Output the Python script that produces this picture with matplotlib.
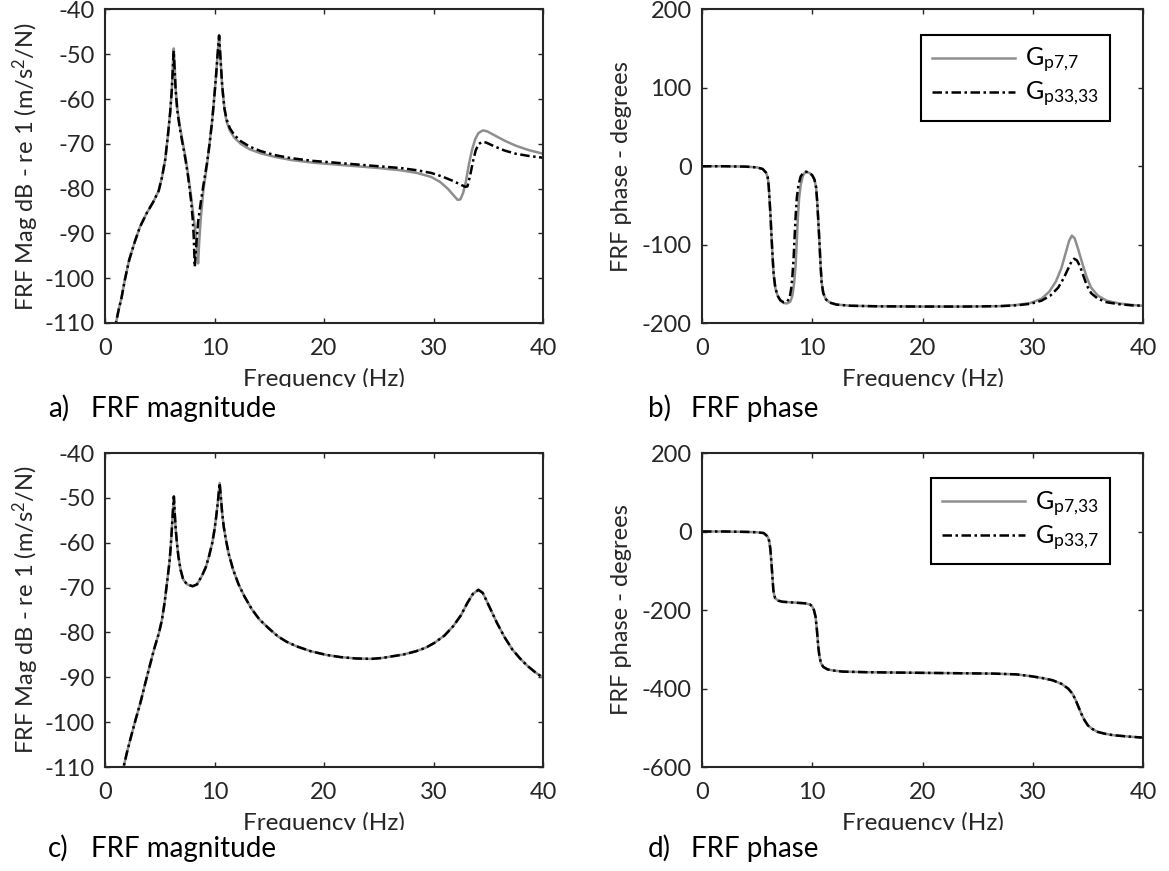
import matplotlib
matplotlib.use("Agg")
import matplotlib.pyplot as plt
from matplotlib.transforms import Bbox

plt.rcParams["font.family"] = ["Lato", "DejaVu Sans"]
plt.rcParams["mathtext.default"] = "regular"
plt.rcParams["axes.unicode_minus"] = False

# --- data (frequency in Hz) --------------------------------------------------

# a) magnitude, driving point FRFs
freq_a_77 = [0.8, 1.0, 1.25, 1.5, 1.8, 2.2, 2.7, 3.2, 3.8, 4.4, 4.9, 5.2, 5.5, 5.75,
             5.95, 6.1, 6.2, 6.28, 6.36, 6.45, 6.6, 6.8, 7.05, 7.35, 7.6, 7.85, 8.05,
             8.25, 8.4, 8.5, 8.6, 8.75, 9.0, 9.3, 9.55, 9.8, 10.0, 10.15, 10.3, 10.42,
             10.55, 10.7, 10.9, 11.1, 11.4, 11.8, 12.4, 13.2, 14.2, 15.5, 17.0, 19.0,
             21.0, 23.0, 25.0, 27.0, 28.5, 29.8, 30.6, 31.3, 31.8, 32.2, 32.45, 32.7,
             32.95, 33.2, 33.5, 33.8, 34.1, 34.5, 34.9, 35.5, 36.5, 37.5, 38.7, 40.0]
mag_a_77 = [-113, -110, -107, -104.5, -100.5, -96, -92, -88.5, -85.5, -83, -80.5, -77.5,
            -73.5, -68, -63, -58, -52, -48.7, -52.5, -57.5, -62, -65.5, -69, -73,
            -77, -81.5, -85.5, -89.5, -92.8, -96.7, -92, -86.5, -80, -75, -70, -64.5,
            -59, -54.5, -49.5, -45.8, -51, -57, -62, -65, -67, -68.6, -70, -71.2,
            -72.1, -72.9, -73.6, -74.2, -74.6, -75.0, -75.4, -75.9, -76.5, -77.4,
            -78.5, -80.0, -81.4, -82.5, -82.4, -81, -78.5, -75, -71.5, -69, -67.6,
            -67.0, -67.2, -68, -69.3, -70.4, -71.4, -72.2]

freq_a_3333 = [0.8, 1.0, 1.25, 1.5, 1.8, 2.2, 2.7, 3.2, 3.8, 4.4, 4.9, 5.2, 5.5, 5.75,
               5.95, 6.1, 6.2, 6.27, 6.35, 6.45, 6.6, 6.8, 7.05, 7.35, 7.6, 7.85, 8.0,
               8.1, 8.2, 8.35, 8.5, 8.75, 9.0, 9.3, 9.55, 9.8, 10.0, 10.15, 10.3, 10.42,
               10.55, 10.7, 10.9, 11.1, 11.4, 11.8, 12.4, 13.2, 14.2, 15.5, 17.0, 19.0,
               21.0, 23.0, 25.0, 27.0, 28.5, 29.8, 30.8, 31.7, 32.4, 32.9, 33.1, 33.35,
               33.6, 33.85, 34.1, 34.4, 34.8, 35.5, 36.5, 37.5, 38.7, 40.0]
mag_a_3333 = [-113, -110, -107, -104.5, -100.5, -96, -92, -88.5, -85.5, -83, -80.5,
              -77.5, -73.5, -68, -63, -58, -53, -49.2, -53, -58, -62.5, -66, -69.5,
              -73.5, -77.5, -82.5, -86.5, -90.5, -97.5, -92, -87.5, -83, -79, -74.5, -70,
              -64.5, -59, -54.5, -49.5, -45.8, -51, -57, -62, -64.5, -66.5, -68, -69.4,
              -70.6, -71.6, -72.5, -73.2, -73.8, -74.2, -74.6, -75.0, -75.4, -75.9,
              -76.5, -77.3, -78.2, -79.0, -79.6, -79.5, -77, -74, -71.5, -70.1, -69.6,
              -69.7, -70.5, -71.5, -72.2, -72.7, -73.1]

# b) phase, driving point FRFs
freq_b_77 = [0, 2, 4, 5.0, 5.5, 5.8, 5.96, 6.05, 6.13, 6.22, 6.3, 6.4, 6.5, 6.65, 6.85,
             7.1, 7.4, 7.7, 8.0, 8.2, 8.35, 8.5, 8.6, 8.7, 8.8, 8.95, 9.15, 9.4, 9.75,
             10.0, 10.2, 10.35, 10.45, 10.55, 10.65, 10.75, 10.85, 11.0, 11.25, 11.6,
             12.2, 13.5, 16, 20, 24, 27, 28.5, 29.8, 30.8, 31.5, 32.1, 32.6, 33.0,
             33.3, 33.55, 33.8, 34.1, 34.5, 34.9, 35.3, 35.9, 36.7, 37.8, 39.0, 40]
phase_b_77 = [0, 0, -0.5, -1.5, -3.5, -8, -14, -25, -43, -65, -88, -115, -138, -155,
              -165, -171, -174.5, -175, -173, -165, -150, -125, -95, -65, -42, -24, -12,
              -7, -8.5, -11.5, -17, -27, -45, -70, -96, -125, -148, -162, -170, -174,
              -176.5, -178, -178.7, -179, -179, -178.5, -177, -174.5, -169, -160, -147,
              -130, -110, -95, -88.5, -92, -105, -124, -142, -155, -165, -171.5, -175,
              -177, -178]

freq_b_3333 = [0, 2, 4, 5.0, 5.5, 5.8, 5.96, 6.05, 6.13, 6.22, 6.3, 6.4, 6.5, 6.65,
               6.85, 7.1, 7.4, 7.7, 7.95, 8.1, 8.2, 8.3, 8.4, 8.5, 8.6, 8.75, 8.95, 9.2,
               9.45, 9.75, 10.0, 10.2, 10.35, 10.45, 10.55, 10.65, 10.75, 10.85, 11.0,
               11.25, 11.6, 12.2, 13.5, 16, 20, 24, 27, 28.5, 29.8, 30.8, 31.6, 32.3,
               32.8, 33.2, 33.5, 33.75, 34.0, 34.3, 34.6, 34.9, 35.3, 35.9, 36.7, 37.8,
               39.0, 40]
phase_b_3333 = [0, 0, -0.5, -1.5, -3.5, -8, -14, -25, -43, -65, -88, -115, -138, -155,
                -165, -171, -173.5, -173, -168, -155, -140, -120, -90, -62, -40, -24, -13,
                -8, -7, -8.5, -11.5, -17, -27, -45, -70, -96, -125, -148, -162, -170,
                -174, -176.5, -178, -178.7, -179, -179, -178.5, -177.5, -175.5, -171.5,
                -165, -155, -143, -131, -122, -118, -120, -128, -140, -152, -162, -169,
                -173.5, -176, -177.5, -178]

# c) magnitude, transfer FRFs (Gp7,33 and Gp33,7 coincide)
freq_c = [1.5, 1.7, 2.0, 2.38, 2.8, 3.23, 3.65, 4.08, 4.5, 4.93, 5.2, 5.44, 5.65, 5.88,
          6.0, 6.1, 6.2, 6.29, 6.37, 6.46, 6.58, 6.7, 6.9, 7.14, 7.5, 8.0, 8.4, 8.83,
          9.2, 9.5, 9.8, 10.0, 10.15, 10.3, 10.47, 10.58, 10.7, 10.85, 11.04, 11.3,
          11.7, 12.2, 12.74, 13.4, 14.1, 15.0, 15.8, 16.6, 17.5, 18.8, 20.2, 21.5, 22.9,
          24.3, 25.3, 26.3, 27.3, 28.4, 29.3, 30.1, 31.0, 31.8, 32.5, 33.1, 33.6, 34.1,
          34.5, 34.8, 35.3, 35.8, 36.5, 37.2, 37.9, 38.6, 39.3, 40.0]
mag_c_7_33 = [-112.5, -110, -106.8, -103.2, -99.4, -95.7, -91.6, -87.5, -83.6, -80.1,
              -77.2, -73.4, -69.2, -64.5, -61, -57.1, -53, -49.7, -53.5, -57.1, -60.3,
              -63, -66, -68.2, -69.3, -69.7, -69.3, -67.5, -65.5, -63, -60, -57.1, -54.3,
              -51.1, -46.7, -49.8, -53.4, -56.5, -59.3, -62.5, -66, -69.3, -72, -74.8,
              -77.1, -79.2, -80.9, -82.1, -83.1, -84.2, -85, -85.5, -85.8, -85.9, -85.7,
              -85.3, -84.9, -84.2, -83.4, -82.3, -80.7, -78.6, -76.2, -73.4, -71.4,
              -70.5, -71.2, -72.7, -75.3, -77.9, -81.1, -83.8, -85.8, -87.5, -88.9,
              -90.1]
mag_c_33_7 = list(mag_c_7_33)

# d) phase, transfer FRFs (coincide)
freq_d = [0, 2, 4, 5.0, 5.6, 5.96, 6.1, 6.2, 6.3, 6.4, 6.47, 6.55, 6.64, 6.9, 7.3, 8.3,
          9.36, 9.8, 10.0, 10.15, 10.3, 10.42, 10.55, 10.65, 10.8, 11.0, 11.4, 12.0,
          12.8, 15, 19.6, 23, 26.4, 28.5, 29.8, 30.8, 31.8, 32.6, 33.2, 33.6, 33.9,
          34.15, 34.4, 34.7, 35.0, 35.4, 35.9, 36.5, 37.3, 38.5, 39.9]
phase_d_7_33 = [0, 0, -1, -2, -4, -13, -25, -45, -81, -120, -149, -162, -170, -176,
                -179, -181, -183, -186, -191, -200, -217, -250, -294, -318, -336, -345,
                -351.5, -354.5, -357, -358.5, -360, -361, -362, -364, -368.5, -373, -379,
                -388, -400, -413, -430, -447, -464, -481, -494, -503, -510.6, -515, -519,
                -522, -525]
phase_d_33_7 = list(phase_d_7_33)

XTICKS = [0, 10, 20, 30, 40]
MAG_TICKS = [-110, -100, -90, -80, -70, -60, -50, -40]
PHASE_B_TICKS = [-200, -100, 0, 100, 200]
PHASE_D_TICKS = [-600, -400, -200, 0, 200]

GREY = "#8e8e8e"
DASHDOT = (0, (3.8, 1.4, 1.0, 1.4))
AXCOL = "#262626"
W, H = 1169, 871

fig = plt.figure(figsize=(W / 100, H / 100), dpi=100)


def make_axes(left, top, right, bottom):
    return fig.add_axes([left / W, 1 - bottom / H, (right - left) / W, (bottom - top) / H])


def style(ax, yticks, ylabel, label_cut):
    ax.set_xlim(0, 40)
    ax.set_ylim(yticks[0], yticks[-1])
    ax.set_xticks(XTICKS)
    ax.set_yticks(yticks)
    for s in ax.spines.values():
        s.set_linewidth(1.5)
        s.set_color(AXCOL)
    ax.tick_params(direction="in", length=3.5, width=1, colors=AXCOL, labelsize=17,
                   top=True, right=True, labelcolor=AXCOL)
    ax.tick_params(axis="x", pad=11)
    ax.tick_params(axis="y", pad=7.5)
    ax.set_ylabel(ylabel, fontsize=17, color=AXCOL, va="center")
    ax.yaxis.set_label_coords(-0.182, 0.5)
    ax.set_xlabel("Frequency (Hz)", fontsize=17.5, color=AXCOL, va="baseline")
    ax.xaxis.set_label_coords(0.5, -0.2)
    # the original figure cuts the bottom of the x label off
    ax.xaxis.label.set_clip_box(Bbox([[0, H - label_cut], [W, H]]))
    ax.xaxis.label.set_clip_on(True)


def caption(x, y, tag, text):
    fig.text(x / W, 1 - y / H, tag, fontsize=20, va="baseline", color="black")
    fig.text((x + 43) / W, 1 - y / H, text, fontsize=20, va="baseline", color="black")


mag_label = "FRF Mag dB - re 1 (m/s$^{2}$/N)"
phase_label = "FRF phase - degrees"

ax_a = make_axes(105, 9.5, 543, 323)
ax_a.plot(freq_a_77, mag_a_77, color=GREY, lw=1.8)
ax_a.plot(freq_a_3333, mag_a_3333, color="black", lw=1.8, ls=DASHDOT)
style(ax_a, MAG_TICKS, mag_label, 387)

ax_b = make_axes(702, 9.5, 1143, 323)
ax_b.plot(freq_b_77, phase_b_77, color=GREY, lw=1.8, label="G$_{p7{,}7}$")
ax_b.plot(freq_b_3333, phase_b_3333, color="black", lw=1.8, ls=DASHDOT,
          label="G$_{p33{,}33}$")
style(ax_b, PHASE_B_TICKS, phase_label, 387)

ax_c = make_axes(105, 453, 543, 767)
ax_c.plot(freq_c, mag_c_7_33, color=GREY, lw=1.8)
ax_c.plot(freq_c, mag_c_33_7, color="black", lw=1.8, ls=DASHDOT)
style(ax_c, MAG_TICKS, mag_label, 830)

ax_d = make_axes(702, 453, 1143, 767)
ax_d.plot(freq_d, phase_d_7_33, color=GREY, lw=1.8, label="G$_{p7{,}33}$")
ax_d.plot(freq_d, phase_d_33_7, color="black", lw=1.8, ls=DASHDOT,
          label="G$_{p33{,}7}$")
style(ax_d, PHASE_D_TICKS, phase_label, 830)

for ax in (ax_b, ax_d):
    leg = ax.legend(loc="upper right", bbox_to_anchor=(0.925, 0.919), borderaxespad=0,
                    fontsize=18, handlelength=3.3, handletextpad=0.4,
                    borderpad=0.45, labelspacing=0.2, fancybox=False,
                    framealpha=1, edgecolor="black")
    leg.get_frame().set_linewidth(1.5)
    for t in leg.get_texts():
        t.set_ha("right")

caption(48, 417, "a)", "FRF magnitude")
caption(648, 417, "b)", "FRF phase")
caption(48, 857, "c)", "FRF magnitude")
caption(648, 857, "d)", "FRF phase")

fig.savefig("out.png", dpi=100)
